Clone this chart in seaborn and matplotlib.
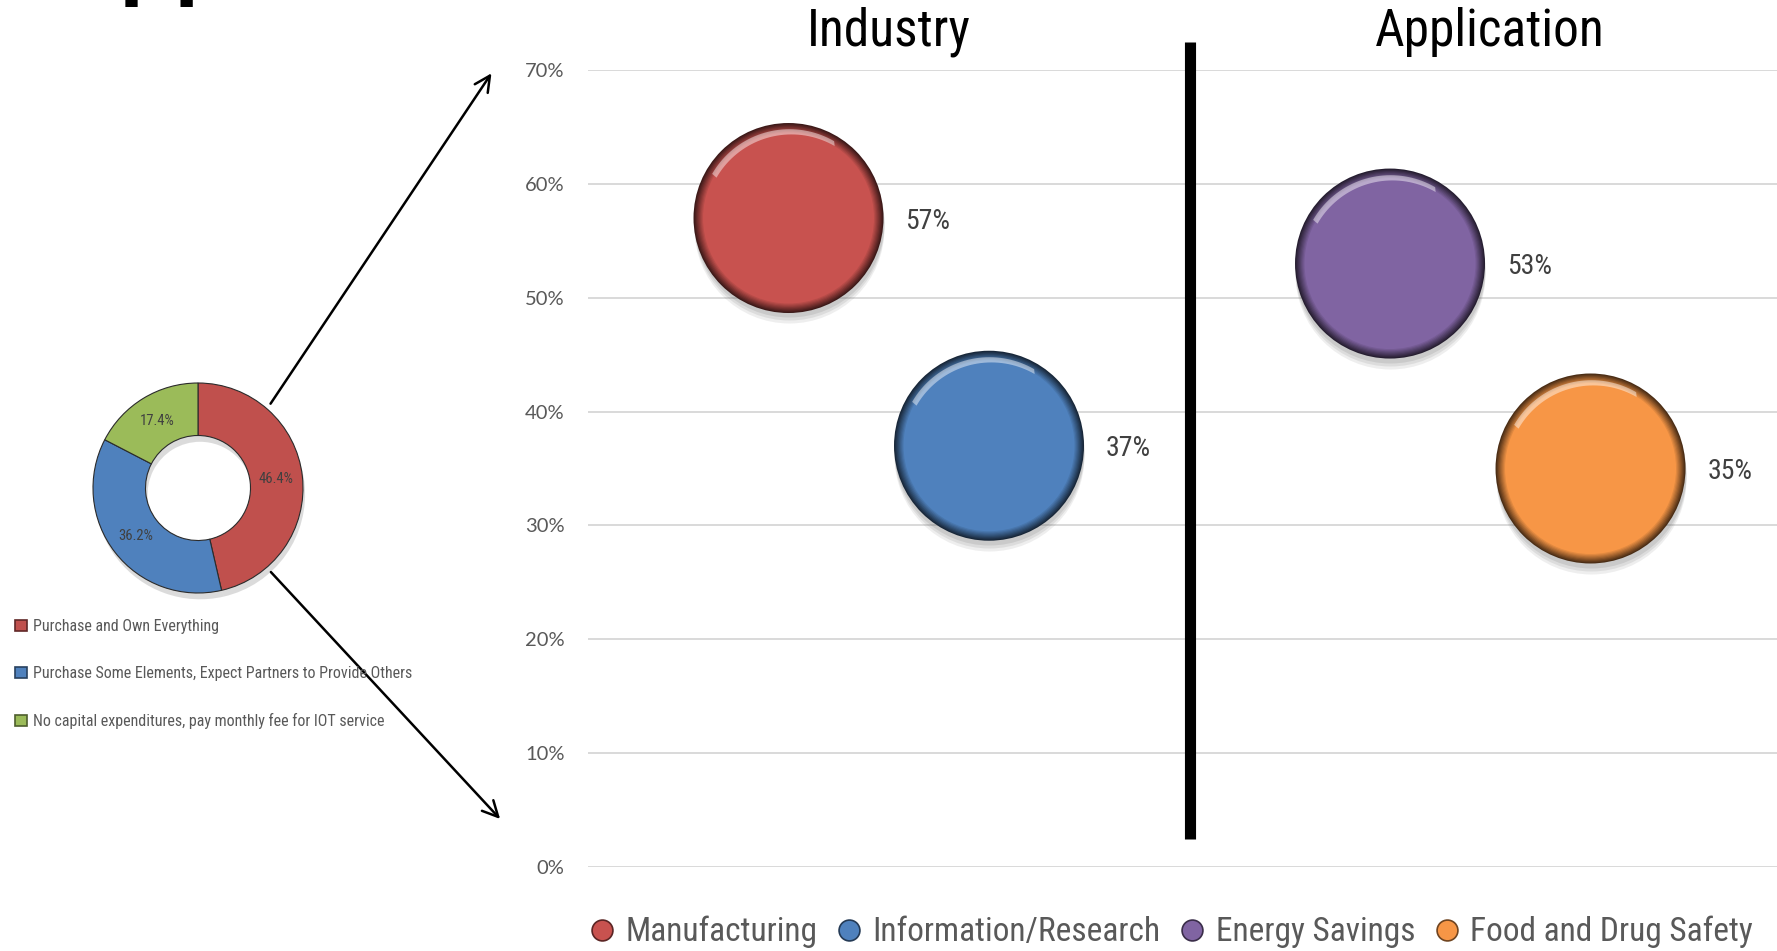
import numpy as np
import pandas as pd
import matplotlib
matplotlib.use("Agg")
import matplotlib.pyplot as plt
import matplotlib.colors as mcolors
import matplotlib.transforms as mtransforms
from matplotlib.lines import Line2D
from matplotlib.path import Path
from matplotlib.patches import FancyArrowPatch, Patch
import seaborn as sns

# ---- survey data -------------------------------------------------------
categories = ["Manufacturing", "Information/Research", "Energy Savings", "Food and Drug Safety"]
groups = ["Industry", "Industry", "Application", "Application"]
shares = [0.57, 0.37, 0.53, 0.35]
slots = [1, 2, 4, 5]
bubble_colors = ["#C8524F", "#4F81BD", "#8064A2", "#F79646"]

group_titles = ["Industry", "Application"]
group_centers = [1.5, 4.5]
divider_slot = 3

model_labels = [
    "Purchase and Own Everything",
    "Purchase Some Elements, Expect Partners to Provide Others",
    "No capital expenditures, pay monthly fee for IOT service",
]
model_shares = [46.4, 36.2, 17.4]
model_colors = ["#C0504D", "#4F81BD", "#9BBB59"]

ytick_values = [0.0, 0.1, 0.2, 0.3, 0.4, 0.5, 0.6, 0.7]

# ---- style ---------------------------------------------------------------
sns.set_theme(style="white")
NARROW = ["Roboto Condensed", "Open Sans Condensed", "Noto Sans Condensed",
          "DejaVu Sans", "Liberation Sans"]
plt.rcParams["font.family"] = NARROW
plt.rcParams["font.stretch"] = "condensed"

W, H, DPI = 1777, 951, 100
fig = plt.figure(figsize=(W / DPI, H / DPI), dpi=DPI)
fig.patch.set_facecolor("white")


def px_box(left, top, right, bottom):
    return [left / W, 1 - bottom / H, (right - left) / W, (bottom - top) / H]


def shade(color, f):
    r, g, b = mcolors.to_rgb(color)
    return (r * f, g * f, b * f)


def crescent_marker():
    """Thin highlight arc hugging the upper-left rim of a unit circle."""
    t_out = np.radians(np.linspace(150, 60, 40))
    t_in = np.radians(np.linspace(60, 150, 40))
    outer = np.c_[0.94 * np.cos(t_out), 0.94 * np.sin(t_out)]
    inner = np.c_[0.91 * np.cos(t_in) + 0.02, 0.91 * np.sin(t_in) - 0.025]
    verts = np.vstack([outer, inner, outer[:1]])
    codes = [Path.MOVETO] + [Path.LINETO] * (len(verts) - 2) + [Path.CLOSEPOLY]
    return Path(verts, codes), np.abs(verts).max()


# ---- bubble panel --------------------------------------------------------
ax = fig.add_axes(px_box(588, 70, 1777, 867))
df = pd.DataFrame({"category": categories, "group": groups, "share": shares, "slot": slots})
palette = dict(zip(categories, bubble_colors))

diam_pt = 190 * 72 / DPI
base_s = diam_pt ** 2

# soft drop shadow under each bubble
for k, a in zip([10, 7, 4], [0.10, 0.12, 0.14]):
    sns.scatterplot(data=df, x="slot", y="share", ax=ax, s=base_s,
                    color="#606060", alpha=a, linewidth=0, legend=False)
    coll = ax.collections[-1]
    coll.set_offset_transform(
        ax.transData + mtransforms.ScaledTranslation(0, -k / DPI, fig.dpi_scale_trans))
    coll.set_clip_on(False)

# bevelled rim: dark outer ring fading into the body colour
rim_steps = np.linspace(1.0, 0.9, 9)
rim_dark = np.linspace(0.3, 1.0, 9)
for f, d in zip(rim_steps, rim_dark):
    pal = {c: shade(col, d) for c, col in palette.items()}
    sns.scatterplot(data=df, x="slot", y="share", hue="category", palette=pal, ax=ax,
                    s=base_s * f ** 2, linewidth=0, legend=False)
    ax.collections[-1].set_clip_on(False)

# glossy highlight along the top edge
gloss_path, gloss_extent = crescent_marker()
sns.scatterplot(data=df, x="slot", y="share", ax=ax, marker=gloss_path,
                s=(diam_pt * gloss_extent) ** 2, color="white", alpha=0.45,
                linewidth=0, legend=False)
ax.collections[-1].set_clip_on(False)

for _, row in df.iterrows():
    ax.annotate(f"{row['share']:.0%}", (row["slot"], row["share"]),
                xytext=(117, -3), textcoords="offset pixels",
                ha="left", va="center", fontsize=20, color="#404040")

ax.set_xlim(0, 5.93)
ax.set_ylim(0, 0.7)
ax.set_yticks(ytick_values)
ax.set_yticklabels([f"{v:.0%}" for v in ytick_values], family=["Lato", "DejaVu Sans"],
                   fontstretch="normal", fontsize=14.5, color="#595959")
ax.set_xticks([])
ax.set_xlabel("")
ax.set_ylabel("")
ax.tick_params(axis="y", length=0, pad=17)
ax.yaxis.grid(True, color="#D9D9D9", linewidth=1.4)
ax.set_axisbelow(True)
for sp in ax.spines.values():
    sp.set_visible(False)

ax.axvline(divider_slot, ymin=0.035, ymax=1.035, color="black", linewidth=8,
           clip_on=False, solid_capstyle="butt")
for title, cx in zip(group_titles, group_centers):
    ax.text(cx, 1.048, title, transform=ax.get_xaxis_transform(),
            ha="center", va="center", fontsize=37, color="black")

handles = [Line2D([], [], marker="o", linestyle="none", markersize=15,
                  markerfacecolor=c, markeredgecolor=shade(c, 0.45), markeredgewidth=1.2)
           for c in bubble_colors]
fig.legend(handles, categories, loc="center", bbox_to_anchor=(1170 / W, 1 - 932 / H),
           ncol=4, frameon=False, fontsize=24, labelcolor="#595959",
           handletextpad=0.25, columnspacing=0.5, handlelength=0.9)

# ---- business-model donut ------------------------------------------------
R = 105
cx, cy = 198, 488
half = 130
dax = fig.add_axes(px_box(cx - half, cy - half, cx + half, cy + half))
# drop shadow of the ring
dax.pie(model_shares, colors=["#8a8a8a"] * len(model_shares), startangle=90,
        counterclock=False, center=(0.02, -0.06),
        wedgeprops=dict(width=0.5, linewidth=0, alpha=0.3))
wedges, _, pct_texts = dax.pie(
    model_shares, colors=model_colors, startangle=90, counterclock=False,
    wedgeprops=dict(width=0.5, edgecolor="#2b2b2b", linewidth=0.8),
    autopct="%.1f%%", pctdistance=0.75,
    textprops=dict(color="#404040", fontsize=10.5),
)
lim = half / R
dax.set_xlim(-lim, lim)
dax.set_ylim(-lim, lim)
dax.set_aspect("equal")
dax.axis("off")

model_handles = [Patch(facecolor=c, edgecolor=shade(c, 0.5), linewidth=1.2) for c in model_colors]
fig.legend(model_handles, model_labels, loc="upper left",
           bbox_to_anchor=(4 / W, 1 - 608 / H), frameon=False, fontsize=11.5,
           labelcolor="#595959", handlelength=0.75, handleheight=0.75,
           handletextpad=0.35, labelspacing=2.0, borderpad=0.2)

# ---- connector arrows from the donut to the bubble panel -----------------
for (x0, y0), (x1, y1) in [((269, 406), (493, 71)), ((269, 570), (502, 821))]:
    fig.add_artist(FancyArrowPatch((x0 / W, 1 - y0 / H), (x1 / W, 1 - y1 / H),
                                   transform=fig.transFigure, arrowstyle="->",
                                   mutation_scale=28, linewidth=1.8, color="black"))

# slide heading running off the top edge
fig.text(55 / W, 1 + 12 / H, "Application", fontsize=65, fontweight="bold",
         family=["Liberation Sans", "DejaVu Sans"], fontstretch="normal",
         va="baseline", ha="left", color="black")

fig.savefig("out.png", dpi=DPI, facecolor="white")
